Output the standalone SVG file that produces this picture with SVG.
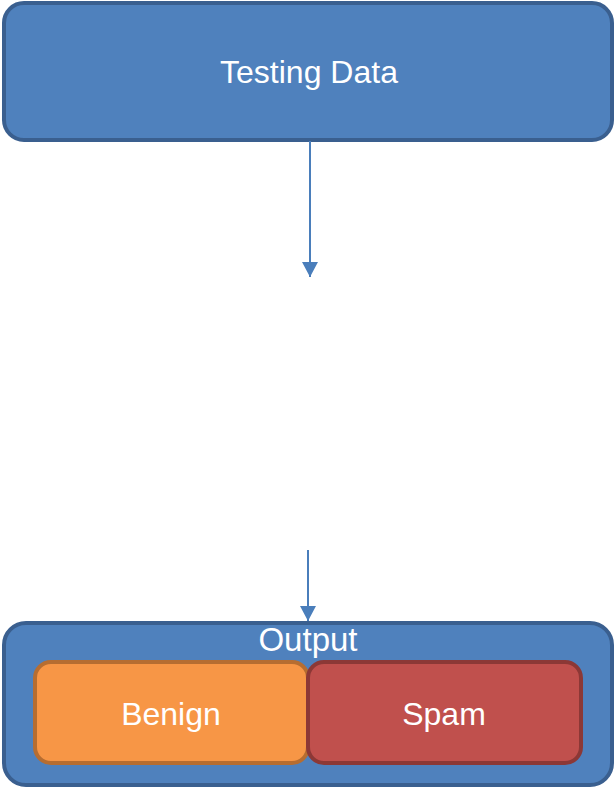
<svg xmlns="http://www.w3.org/2000/svg" width="615" height="788" viewBox="0 0 615 788">
  <defs>
    <marker id="arrow" markerWidth="15" markerHeight="16" refX="15" refY="8" orient="auto" markerUnits="userSpaceOnUse">
      <path d="M0,0 L15,8 L0,16 Z" fill="#4a7ebb"/>
    </marker>
    <style>
      .blue { fill: #4f81bd; stroke: #3a5f8f; stroke-width: 4; }
      .benign { fill: #f79646; stroke: #b66d31; stroke-width: 4; }
      .spam { fill: #c0504d; stroke: #8c3836; stroke-width: 4; }
      .label { font-family: "Liberation Sans", Arial, sans-serif; fill: #ffffff; text-anchor: middle; dominant-baseline: central; }
      .edge { stroke: #4a7ebb; stroke-width: 2; fill: none; marker-end: url(#arrow); }
    </style>
  </defs>

  <g id="testing-data">
    <rect class="blue" x="4" y="3" width="608" height="137" rx="20" ry="20"/>
    <text class="label" x="309" y="72" font-size="32">Testing Data</text>
  </g>

  <g id="output">
    <rect class="blue" x="4" y="623" width="608" height="162" rx="22" ry="22"/>
    <text class="label" x="308" y="639" font-size="33">Output</text>
  </g>

  <g id="benign">
    <rect class="benign" x="35" y="662" width="273" height="101" rx="16" ry="16"/>
    <text class="label" x="171" y="714" font-size="32">Benign</text>
  </g>

  <g id="spam">
    <rect class="spam" x="308" y="662" width="273" height="101" rx="16" ry="16"/>
    <text class="label" x="444" y="714" font-size="32">Spam</text>
  </g>

  <g id="connectors">
    <line class="edge" x1="310" y1="141" x2="310" y2="277"/>
    <line class="edge" x1="308" y1="550" x2="308" y2="621"/>
  </g>
</svg>
